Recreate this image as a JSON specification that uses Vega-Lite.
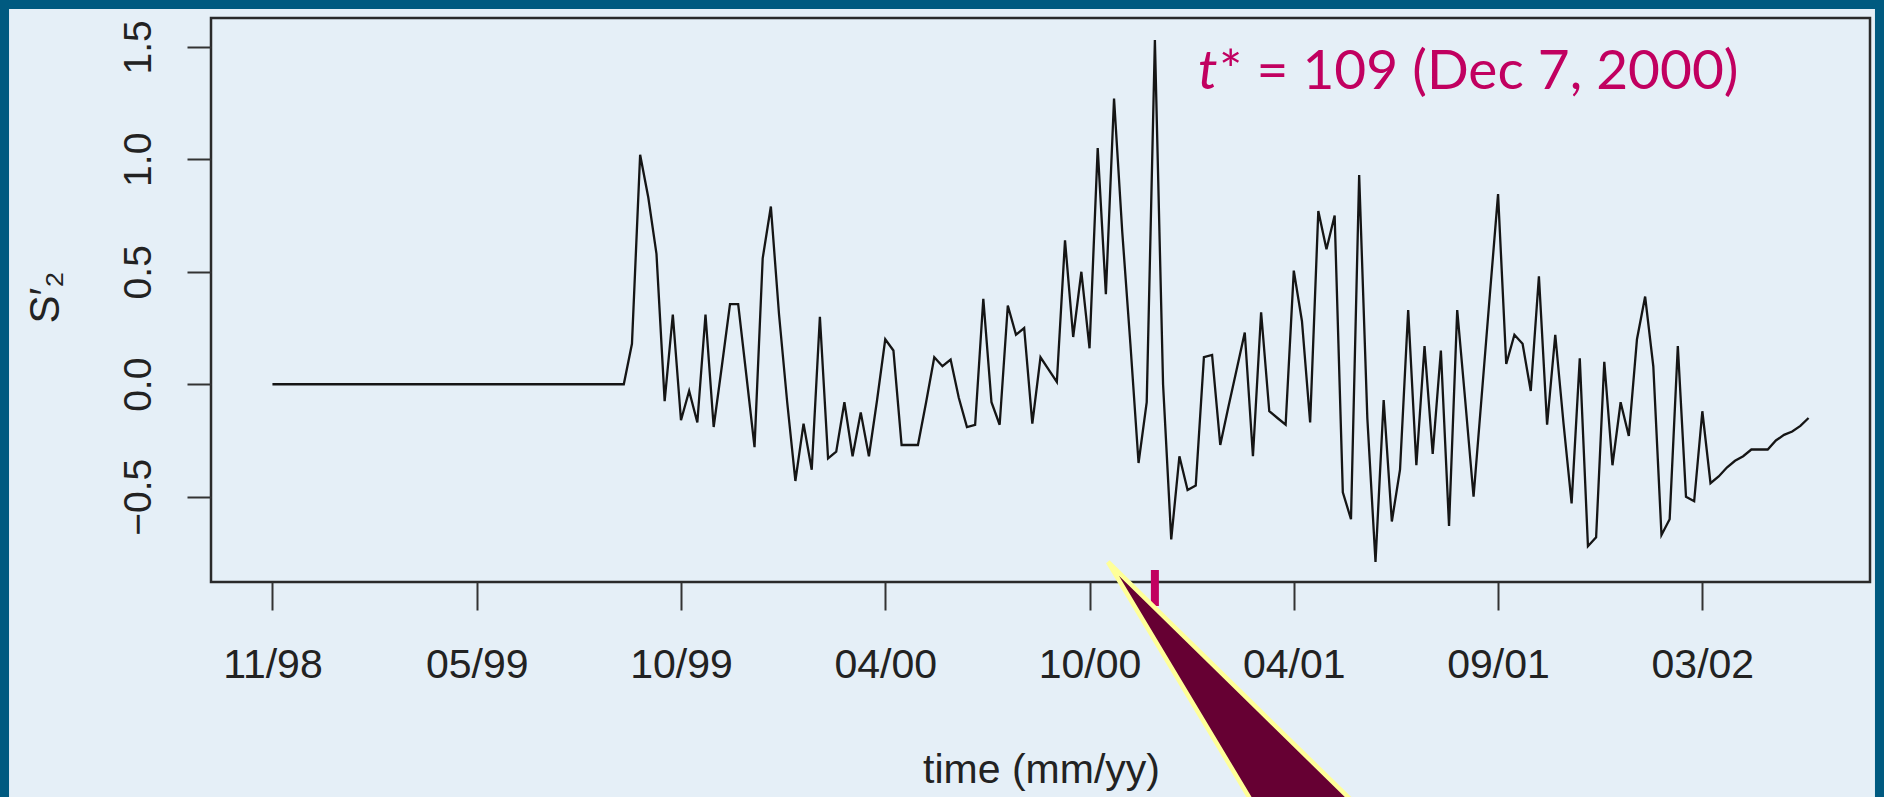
{
  "$schema": "https://vega.github.io/schema/vega-lite/v6.json",
  "width": 1659,
  "height": 564,
  "autosize": {"type": "none"},
  "padding": {"left": 211, "top": 18, "right": 14, "bottom": 215},
  "background": "#e5eff7",
  "config": {"view": {"stroke": "#2a2a2a", "strokeWidth": 2.5}},
  "datasets": {
    "series": [
      {"t":1,"v":0},{"t":2,"v":0},{"t":3,"v":0},{"t":4,"v":0},{"t":5,"v":0},{"t":6,"v":0},{"t":7,"v":0},{"t":8,"v":0},{"t":9,"v":0},{"t":10,"v":0},
      {"t":11,"v":0},{"t":12,"v":0},{"t":13,"v":0},{"t":14,"v":0},{"t":15,"v":0},{"t":16,"v":0},{"t":17,"v":0},{"t":18,"v":0},{"t":19,"v":0},{"t":20,"v":0},
      {"t":21,"v":0},{"t":22,"v":0},{"t":23,"v":0},{"t":24,"v":0},{"t":25,"v":0},{"t":26,"v":0},{"t":27,"v":0},{"t":28,"v":0},{"t":29,"v":0},{"t":30,"v":0},
      {"t":31,"v":0},{"t":32,"v":0},{"t":33,"v":0},{"t":34,"v":0},{"t":35,"v":0},{"t":36,"v":0},{"t":37,"v":0},{"t":38,"v":0},{"t":39,"v":0},{"t":40,"v":0},
      {"t":41,"v":0},{"t":42,"v":0},{"t":43,"v":0},{"t":44,"v":0},{"t":45,"v":0.18},{"t":46,"v":1.02},{"t":47,"v":0.83},{"t":48,"v":0.58},{"t":49,"v":-0.075},{"t":50,"v":0.31},
      {"t":51,"v":-0.16},{"t":52,"v":-0.03},{"t":53,"v":-0.17},{"t":54,"v":0.31},{"t":55,"v":-0.19},{"t":56,"v":0.08},{"t":57,"v":0.356},{"t":58,"v":0.356},{"t":59,"v":0.04},{"t":60,"v":-0.28},
      {"t":61,"v":0.56},{"t":62,"v":0.79},{"t":63,"v":0.31},{"t":64,"v":-0.08},{"t":65,"v":-0.43},{"t":66,"v":-0.175},{"t":67,"v":-0.38},{"t":68,"v":0.30},{"t":69,"v":-0.33},{"t":70,"v":-0.30},
      {"t":71,"v":-0.08},{"t":72,"v":-0.32},{"t":73,"v":-0.125},{"t":74,"v":-0.32},{"t":75,"v":-0.07},{"t":76,"v":0.20},{"t":77,"v":0.15},{"t":78,"v":-0.27},{"t":79,"v":-0.27},{"t":80,"v":-0.27},
      {"t":81,"v":-0.08},{"t":82,"v":0.12},{"t":83,"v":0.08},{"t":84,"v":0.11},{"t":85,"v":-0.06},{"t":86,"v":-0.19},{"t":87,"v":-0.18},{"t":88,"v":0.38},{"t":89,"v":-0.08},{"t":90,"v":-0.18},
      {"t":91,"v":0.35},{"t":92,"v":0.22},{"t":93,"v":0.25},{"t":94,"v":-0.175},{"t":95,"v":0.12},{"t":96,"v":0.065},{"t":97,"v":0.01},{"t":98,"v":0.64},{"t":99,"v":0.21},{"t":100,"v":0.50},
      {"t":101,"v":0.16},{"t":102,"v":1.05},{"t":103,"v":0.40},{"t":104,"v":1.27},{"t":105,"v":0.68},{"t":106,"v":0.18},{"t":107,"v":-0.35},{"t":108,"v":-0.08},{"t":109,"v":1.53},{"t":110,"v":0.0},
      {"t":111,"v":-0.69},{"t":112,"v":-0.32},{"t":113,"v":-0.47},{"t":114,"v":-0.45},{"t":115,"v":0.12},{"t":116,"v":0.13},{"t":117,"v":-0.27},{"t":118,"v":-0.10},{"t":119,"v":0.065},{"t":120,"v":0.23},
      {"t":121,"v":-0.32},{"t":122,"v":0.32},{"t":123,"v":-0.12},{"t":124,"v":-0.15},{"t":125,"v":-0.18},{"t":126,"v":0.505},{"t":127,"v":0.28},{"t":128,"v":-0.17},{"t":129,"v":0.77},{"t":130,"v":0.60},
      {"t":131,"v":0.75},{"t":132,"v":-0.48},{"t":133,"v":-0.60},{"t":134,"v":0.93},{"t":135,"v":-0.15},{"t":136,"v":-0.79},{"t":137,"v":-0.07},{"t":138,"v":-0.61},{"t":139,"v":-0.38},{"t":140,"v":0.33},
      {"t":141,"v":-0.36},{"t":142,"v":0.17},{"t":143,"v":-0.31},{"t":144,"v":0.15},{"t":145,"v":-0.63},{"t":146,"v":0.33},{"t":147,"v":-0.08},{"t":148,"v":-0.50},{"t":149,"v":-0.05},{"t":150,"v":0.40},
      {"t":151,"v":0.845},{"t":152,"v":0.09},{"t":153,"v":0.22},{"t":154,"v":0.18},{"t":155,"v":-0.03},{"t":156,"v":0.48},{"t":157,"v":-0.18},{"t":158,"v":0.22},{"t":159,"v":-0.17},{"t":160,"v":-0.53},
      {"t":161,"v":0.115},{"t":162,"v":-0.72},{"t":163,"v":-0.68},{"t":164,"v":0.10},{"t":165,"v":-0.36},{"t":166,"v":-0.08},{"t":167,"v":-0.23},{"t":168,"v":0.20},{"t":169,"v":0.39},{"t":170,"v":0.08},
      {"t":171,"v":-0.67},{"t":172,"v":-0.60},{"t":173,"v":0.17},{"t":174,"v":-0.50},{"t":175,"v":-0.52},{"t":176,"v":-0.12},{"t":177,"v":-0.44},{"t":178,"v":-0.41},{"t":179,"v":-0.37},{"t":180,"v":-0.34},
      {"t":181,"v":-0.32},{"t":182,"v":-0.29},{"t":183,"v":-0.29},{"t":184,"v":-0.29},{"t":185,"v":-0.25},{"t":186,"v":-0.225},{"t":187,"v":-0.21},{"t":188,"v":-0.185},{"t":189,"v":-0.15}
    ],
    "callout": [
      {"x": 103.26, "y": -0.790, "y2": -0.790},
      {"x": 121.47, "y": -1.4376, "y2": -1.8925},
      {"x": 134.26, "y": -1.8925, "y2": -1.8925}
    ]
  },
  "layer": [
    {
      "data": {"name": "series"},
      "mark": {"type": "line", "color": "#151515", "strokeWidth": 2.3, "clip": false},
      "encoding": {
        "x": {
          "field": "t", "type": "quantitative",
          "scale": {"domain": [-6.52, 196.52], "nice": false, "zero": false},
          "axis": {
            "values": [1, 26, 51, 76, 101, 126, 151, 176],
            "labelExpr": "['11/98','05/99','10/99','04/00','10/00','04/01','09/01','03/02'][round((datum.value-1)/25)]",
            "domain": false, "grid": false,
            "tickSize": 28, "tickWidth": 2, "tickColor": "#333333",
            "labelFont": "Liberation Sans", "labelFontSize": 41, "labelColor": "#222222",
            "labelPadding": 67, "labelBaseline": "alphabetic", "labelFlush": false, "labelOverlap": false,
            "title": "time (mm/yy)", "titleFont": "Liberation Sans", "titleFontSize": 41, "titleFontWeight": "normal",
            "titleColor": "#222222", "titleX": 830, "titleY": 200, "titleBaseline": "alphabetic", "titleAlign": "center"
          }
        },
        "y": {
          "field": "v", "type": "quantitative",
          "scale": {"domain": [-0.879, 1.628], "nice": false, "zero": false},
          "axis": {
            "values": [-0.5, 0, 0.5, 1, 1.5],
            "format": ".1f",
            "domain": false, "grid": false,
            "tickSize": 24, "tickWidth": 2, "tickColor": "#333333",
            "labelFont": "Liberation Sans", "labelFontSize": 39, "labelColor": "#222222",
            "labelAngle": 270, "labelAlign": "center", "labelBaseline": "alphabetic", "labelPadding": 37,
            "labelFlush": false, "labelOverlap": false,
            "title": "S′₂", "titleFont": "Liberation Sans", "titleFontSize": 42, "titleFontWeight": "normal",
            "titleColor": "#222222", "titleAngle": 270, "titleX": -153, "titleY": 279,
            "titleAlign": "center", "titleBaseline": "alphabetic"
          }
        }
      }
    },
    {
      "data": {"values": [{}]},
      "mark": {"type": "rule", "color": "#c10060", "strokeWidth": 8, "clip": false},
      "encoding": {
        "x": {"datum": 109, "type": "quantitative", "scale": {"domain": [-6.52, 196.52], "nice": false, "zero": false}},
        "y": {"datum": -0.8257, "type": "quantitative", "scale": {"domain": [-0.879, 1.628], "nice": false, "zero": false}},
        "y2": {"datum": -0.9857}
      }
    },
    {
      "data": {"name": "callout"},
      "mark": {"type": "area", "fill": "#660033", "stroke": "#ffff99", "strokeWidth": 4.5, "interpolate": "linear", "clip": false, "fillOpacity": 1},
      "encoding": {
        "x": {"field": "x", "type": "quantitative", "scale": {"domain": [-6.52, 196.52], "nice": false, "zero": false}},
        "y": {"field": "y", "type": "quantitative", "scale": {"domain": [-0.879, 1.628], "nice": false, "zero": false}},
        "y2": {"field": "y2"}
      }
    },
    {
      "data": {"values": [{}]},
      "mark": {"type": "text", "text": "t", "font": "Lato", "fontSize": 55, "fontStyle": "italic", "color": "#c10060", "align": "left", "baseline": "alphabetic", "clip": false},
      "encoding": {
        "x": {"datum": 114.28, "type": "quantitative", "scale": {"domain": [-6.52, 196.52], "nice": false, "zero": false}},
        "y": {"datum": 1.3102, "type": "quantitative", "scale": {"domain": [-0.879, 1.628], "nice": false, "zero": false}}
      }
    },
    {
      "data": {"values": [{}]},
      "mark": {"type": "text", "text": "* = 109 (Dec 7, 2000)", "font": "Lato", "fontSize": 55, "color": "#c10060", "align": "left", "baseline": "alphabetic", "dx": 21, "clip": false},
      "encoding": {
        "x": {"datum": 114.28, "type": "quantitative", "scale": {"domain": [-6.52, 196.52], "nice": false, "zero": false}},
        "y": {"datum": 1.3102, "type": "quantitative", "scale": {"domain": [-0.879, 1.628], "nice": false, "zero": false}}
      }
    },
    {
      "data": {"values": [{}]},
      "mark": {"type": "rect", "fillOpacity": 0, "stroke": "#005a80", "strokeWidth": 18, "clip": false},
      "encoding": {
        "x": {"datum": -32.34, "type": "quantitative", "scale": {"domain": [-6.52, 196.52], "nice": false, "zero": false}},
        "x2": {"datum": 198.23},
        "y": {"datum": 1.708, "type": "quantitative", "scale": {"domain": [-0.879, 1.628], "nice": false, "zero": false}},
        "y2": {"datum": -2.3}
      }
    }
  ]
}
